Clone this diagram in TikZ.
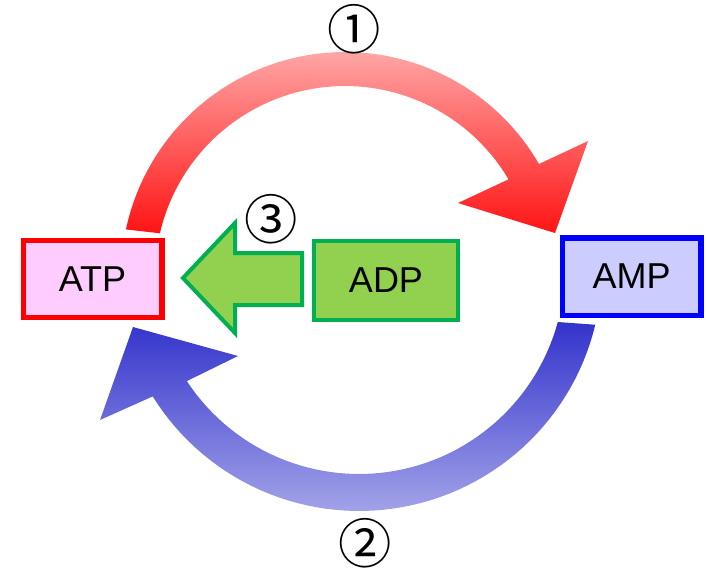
\documentclass[tikz,border=0pt]{standalone}
\usepackage{fontspec}
\setmainfont{Liberation Sans}
\newfontfamily\cjkfont{Noto Sans CJK JP}
\usepackage{tikz}
\usetikzlibrary{positioning}
\definecolor{atpred}{RGB}{255,0,0}
\definecolor{atpfill}{RGB}{255,204,255}
\definecolor{adpgreen}{RGB}{0,176,80}
\definecolor{adpfill}{RGB}{146,208,80}
\definecolor{ampblue}{RGB}{0,0,255}
\definecolor{ampfill}{RGB}{204,204,255}
\definecolor{redlight}{RGB}{255,165,165}
\definecolor{reddark}{RGB}{255,20,20}
\definecolor{bluedark}{RGB}{51,51,204}
\definecolor{bluelight}{RGB}{162,162,232}

\begin{document}
\begin{tikzpicture}[x=0.75pt, y=-0.75pt,
    molbox/.style={draw, rectangle, line width=4pt, minimum width=104pt, minimum height=58pt, inner sep=0pt, font=\fontsize{27}{32}\selectfont},
    numlabel/.style={inner sep=0pt, font=\cjkfont\fontsize{40}{42}\selectfont},
    blockarrow/.style={draw=adpgreen, fill=adpfill, line width=3pt, line join=miter}
]

\useasboundingbox (0,0) rectangle (707,569);

\path[top color=redlight, bottom color=reddark] plot[domain=192:330, samples=60] ({345+224*cos(\x)},{276+224*sin(\x)}) -- (588,141) -- (555,233) -- (458,203) -- plot[domain=329.4:193, samples=60] ({345+190*cos(\x)},{276+190*sin(\x)}) -- cycle;
\path[top color=bluedark, bottom color=bluelight] plot[domain=13.5:148.1, samples=60] ({359+243*cos(\x)},{268+243*sin(\x)}) -- (100,420) -- (133,327) -- (238,356) -- plot[domain=146.7:15.2, samples=60] ({359+206*cos(\x)},{268+206*sin(\x)}) -- cycle;

\node[molbox, draw=atpred, fill=atpfill] (atp) at (92.5,279) {ATP};
\node[molbox, draw=adpgreen, fill=adpfill, line width=3pt, minimum width=108pt, minimum height=59pt] (adp) at (386,280.5) {ADP};
\node[molbox, draw=ampblue, fill=ampfill] (amp) at (631.5,276.5) {AMP};

\draw[blockarrow] (183,278) -- (235,223) -- (235,253) -- (302,253) -- (302,305) -- (235,305) -- (235,333) -- cycle;

\node[numlabel] (one) at (354,29) {①};
\node[numlabel] (two) at (365,543) {②};
\node[numlabel] (three) at (271,219) {③};

\end{tikzpicture}
\end{document}
